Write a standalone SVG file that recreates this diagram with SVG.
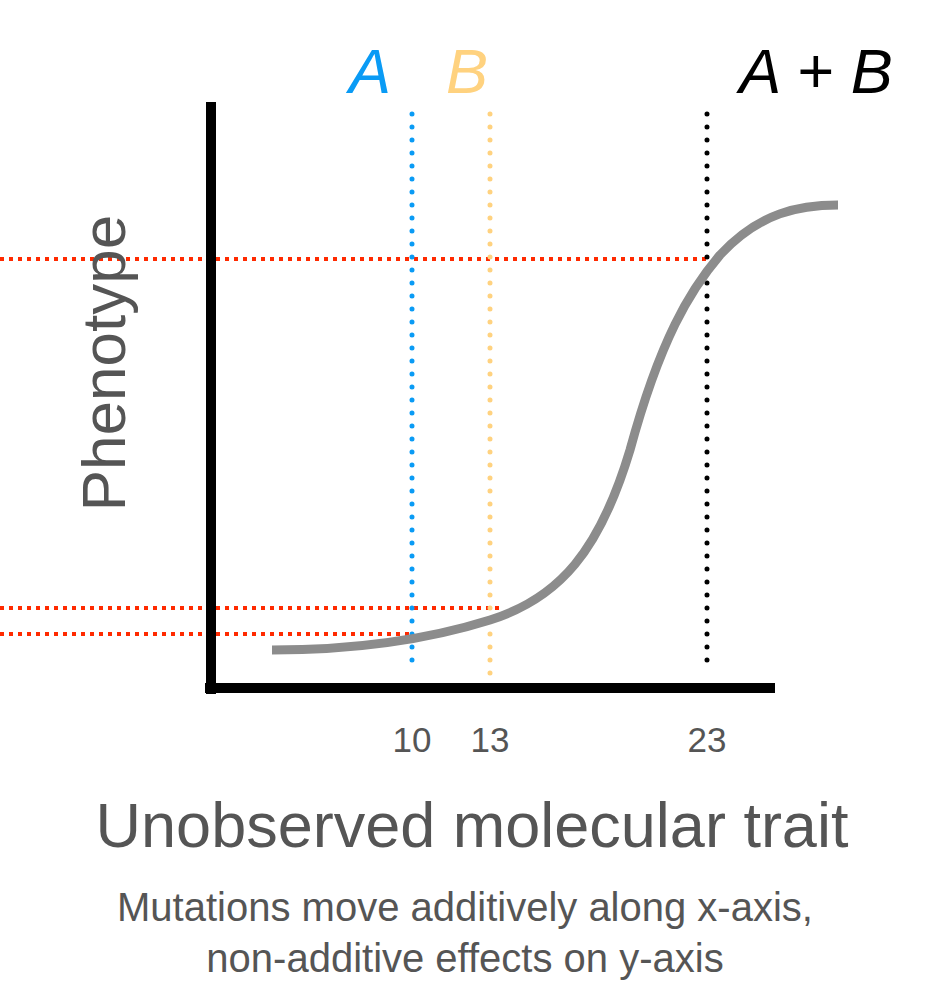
<svg xmlns="http://www.w3.org/2000/svg" width="952" height="998" viewBox="0 0 952 998">
<style>
text{font-family:"Liberation Sans",Arial,sans-serif;}
.g{fill:#555}
.red{stroke:#ff2a00;stroke-width:4;stroke-dasharray:4 5;fill:none}
.dot{stroke-width:5;stroke-linecap:round;stroke-dasharray:0 13;fill:none}
.lbl{font-style:italic;font-size:63px}
</style>
<rect width="952" height="998" fill="#fff"/>
<g id="connectors">
<line class="red" x1="0" y1="259" x2="707" y2="259"/>
<line class="red" x1="0" y1="608" x2="500" y2="608"/>
<line class="red" x1="0" y1="634" x2="412" y2="634"/>
<line class="dot" stroke="#0a9bf5" x1="412" y1="114" x2="412" y2="668"/>
<line class="dot" stroke="#ffd27f" x1="490" y1="114" x2="490" y2="690"/>
<line class="dot" stroke="#000" x1="707" y1="114" x2="707" y2="668"/>
<path d="M272 650 C350 650 420 642 490 620 C560 598 600 550 630 450 C660 340 690 290 720 255 C760 212 800 205 838 205" stroke="#8c8c8c" stroke-width="9" fill="none"/>
</g>
<g id="axes">
<line x1="211" y1="102" x2="211" y2="694" stroke="#000" stroke-width="10"/>
<line x1="205" y1="688" x2="775" y2="688" stroke="#000" stroke-width="10"/>
</g>
<g id="labels">
<text class="lbl" x="370" y="93" fill="#0a9bf5" text-anchor="middle">A</text>
<text class="lbl" x="467" y="93" fill="#ffd27f" text-anchor="middle">B</text>
<text class="lbl" x="816" y="93" fill="#000" text-anchor="middle">A + B</text>
<text class="g" x="412" y="752" font-size="35" text-anchor="middle">10</text>
<text class="g" x="490" y="752" font-size="35" text-anchor="middle">13</text>
<text class="g" x="707" y="752" font-size="35" text-anchor="middle">23</text>
<text class="g" transform="translate(125 363) rotate(-90)" font-size="62" text-anchor="middle">Phenotype</text>
<text class="g" x="472" y="847" font-size="63" text-anchor="middle">Unobserved molecular trait</text>
<text class="g" x="465" y="921" font-size="40" text-anchor="middle">Mutations move additively along x-axis,</text>
<text class="g" x="465" y="972" font-size="40" text-anchor="middle">non-additive effects on y-axis</text>
</g>
</svg>
